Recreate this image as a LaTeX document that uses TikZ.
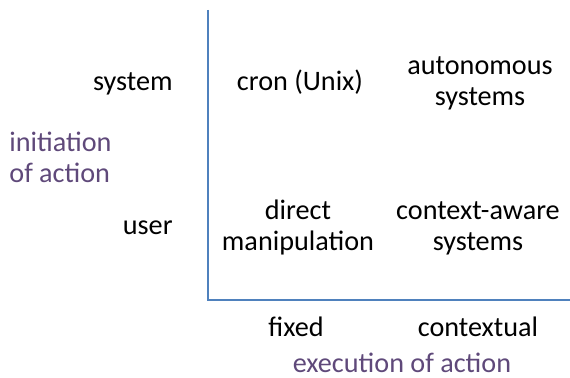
\documentclass[tikz,border=0pt]{standalone}
\usepackage{fontspec}
\setmainfont{Carlito}
\definecolor{axisblue}{RGB}{79,129,189}
\definecolor{labelpurple}{RGB}{95,73,122}
\begin{document}
\begin{tikzpicture}[x=0.5pt, y=0.5pt,
    every node/.style={inner sep=0pt, anchor=base, align=center, font=\fontsize{14.1}{15.5}\selectfont},
    axis/.style={draw=axisblue, line width=1.3pt},
    title/.style={text=labelpurple}]
    \useasboundingbox (0,0) rectangle (570,378);
    % axes
    \coordinate (top) at (208,368);
    \coordinate (origin) at (208,78);
    \coordinate (right) at (570,78);
    \draw[axis] (top) -- (origin) -- (right);
    % row labels (multi-line nodes sit on their last line)
    \node[anchor=base east] (system) at (173,287) {system};
    \node[anchor=base east] (user) at (173,143) {user};
    \node[title, anchor=base west, align=left] (initiation) at (9,195) {initiation\\of action};
    % column labels
    \node (fixed) at (296,41) {fixed};
    \node (contextual) at (478,41) {contextual};
    \node[title] (execution) at (402,5) {execution of action};
    % cells
    \node (cron) at (300,287) {cron (Unix)};
    \node (autonomous) at (480,272) {autonomous\\systems};
    \node (direct) at (298,127) {direct\\manipulation};
    \node (aware) at (478,127) {context-aware\\systems};
\end{tikzpicture}
\end{document}
